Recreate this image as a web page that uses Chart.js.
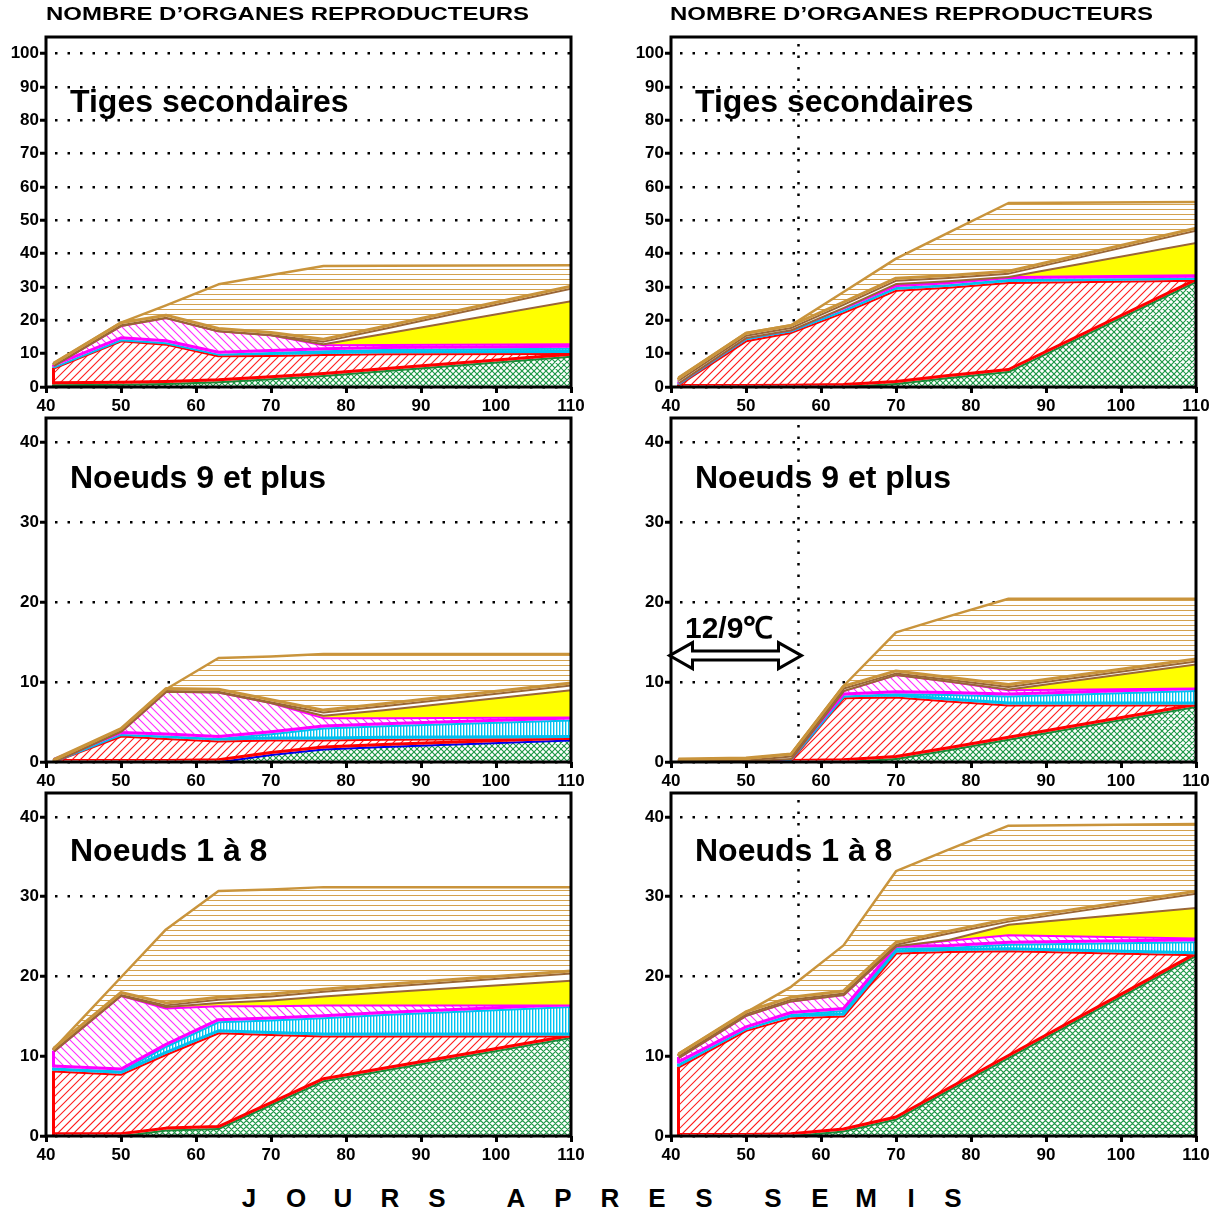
<!DOCTYPE html>
<html lang="fr">
<head>
<meta charset="utf-8">
<title>Nombre d’organes reproducteurs</title>
<script src="https://cdn.jsdelivr.net/npm/chart.js@4.4.1/dist/chart.umd.min.js"></script>
<style>
  html, body { margin: 0; padding: 0; background: #fff; }
  body { position: relative; width: 1220px; height: 1212px; overflow: hidden;
         font-family: "Liberation Sans", Arial, Helvetica, sans-serif; }
  canvas { position: absolute; z-index: 1; }
  .txt { position: absolute; z-index: 2; font-weight: bold; color: #000; white-space: nowrap; }
  .titre { font-size: 18px; line-height: 18px; transform-origin: 0 0; }
  .panneau { font-size: 32px; line-height: 32px; }
  .temp { font-size: 30px; line-height: 30px; }
  .lettre { font-size: 26px; line-height: 26px; top: 1185px; transform: translateX(-50%); }
</style>
</head>
<body>
<div class="txt titre" style="left:46px;top:5px">NOMBRE D’ORGANES REPRODUCTEURS</div>
<div class="txt titre" style="left:670px;top:5px">NOMBRE D’ORGANES REPRODUCTEURS</div>

<div class="txt panneau" style="left:70px;top:85px">Tiges secondaires</div>
<div class="txt panneau" style="left:695px;top:85px">Tiges secondaires</div>
<div class="txt panneau" style="left:70px;top:461px">Noeuds 9 et plus</div>
<div class="txt panneau" style="left:695px;top:461px">Noeuds 9 et plus</div>
<div class="txt panneau" style="left:70px;top:834px">Noeuds 1 à 8</div>
<div class="txt panneau" style="left:695px;top:834px">Noeuds 1 à 8</div>
<div class="txt temp" style="left:685px;top:613px">12/9℃</div>

<div id="axe"></div>

<script>
Chart.defaults.font.family = '"Liberation Sans", Arial, Helvetica, sans-serif';

// jours après semis des relevés
const jours = [41, 50, 56, 63, 70, 77, 85, 110];

// valeurs cumulées : sommet de chaque couche, de bas en haut
// Tiges secondaires (gauche)
const tigesG_vert    = [0.8, 1.0, 1.2, 1.7, 2.6, 3.6, 5.0, 9.4];
const tigesG_rouge   = [5.8, 14.0, 13.0, 9.5, 9.6, 9.9, 10.1, 10.2];
const tigesG_cyan    = [6.1, 14.3, 13.4, 10.0, 10.5, 11.0, 11.4, 11.8];
const tigesG_magenta = [6.6, 18.6, 21.0, 17.0, 15.8, 12.8, 12.9, 13.1];
const tigesG_jaune   = [6.6, 18.6, 21.0, 17.0, 15.8, 13.1, 16.2, 26.0];
const tigesG_blanc   = [6.7, 18.8, 21.1, 17.1, 15.9, 13.9, 17.7, 29.8];
const tigesG_beige   = [7.0, 19.3, 24.5, 30.8, 33.6, 36.3, 36.4, 36.5];

// Tiges secondaires (droite, 12/9°C)
const tigesD_vert    = [0, 0, 0.1, 0.3, 1.2, 3.0, 4.8, 31.8];
const tigesD_rouge   = [0.8, 14.0, 16.5, 22.5, 29.2, 30.1, 31.5, 32.2];
const tigesD_cyan    = [1.1, 14.7, 17.0, 23.2, 30.0, 30.8, 32.4, 32.8];
const tigesD_magenta = [1.4, 15.0, 17.3, 24.0, 31.2, 32.0, 33.3, 33.8];
const tigesD_jaune   = [1.4, 15.0, 17.3, 24.0, 31.2, 32.0, 33.3, 43.5];
const tigesD_blanc   = [2.2, 15.7, 18.0, 25.0, 32.2, 33.0, 34.3, 47.2];
const tigesD_beige   = [2.8, 16.2, 18.5, 28.5, 38.5, 46.3, 55.2, 55.5];

// Noeuds 9 et plus (gauche)
const n9G_vert    = [0, 0, 0, 0.1, 1.0, 1.7, 2.0, 2.8];
const n9G_rouge   = [0.1, 3.3, 3.0, 2.7, 2.8, 2.8, 2.9, 3.0];
const n9G_cyan    = [0.1, 3.5, 3.3, 3.0, 3.6, 4.3, 4.6, 5.3];
const n9G_magenta = [0.1, 3.9, 8.9, 8.8, 7.5, 5.6, 5.6, 5.7];
const n9G_jaune   = [0.1, 3.9, 8.9, 8.8, 7.5, 5.9, 6.6, 9.1];
const n9G_blanc   = [0.1, 4.0, 9.0, 8.9, 7.6, 6.3, 7.1, 9.7];
const n9G_beige   = [0.2, 4.1, 9.1, 13.0, 13.2, 13.5, 13.5, 13.5];

// Noeuds 9 et plus (droite)
const n9D_vert    = [0, 0, 0, 0.1, 0.5, 1.6, 2.9, 7.0];
const n9D_rouge   = [0.1, 0.1, 0.3, 8.1, 8.2, 7.7, 7.2, 7.2];
const n9D_cyan    = [0.1, 0.1, 0.4, 8.3, 8.6, 8.5, 8.3, 9.0];
const n9D_magenta = [0.1, 0.2, 0.5, 9.0, 11.0, 10.2, 9.1, 9.3];
const n9D_jaune   = [0.1, 0.2, 0.5, 9.0, 11.0, 10.2, 9.2, 12.3];
const n9D_blanc   = [0.2, 0.3, 0.8, 9.3, 11.2, 10.4, 9.5, 12.7];
const n9D_beige   = [0.3, 0.4, 1.0, 9.5, 16.2, 18.2, 20.4, 20.4];

// Noeuds 1 à 8 (gauche)
const n18G_vert    = [0.1, 0.1, 0.8, 1.0, 4.0, 7.0, 8.3, 12.4];
const n18G_rouge   = [8.2, 7.8, 10.3, 13.0, 12.8, 12.6, 12.6, 12.6];
const n18G_cyan    = [8.6, 8.2, 11.3, 14.4, 14.6, 14.9, 15.3, 16.3];
const n18G_magenta = [10.7, 17.7, 16.1, 16.4, 16.4, 16.5, 16.5, 16.5];
const n18G_jaune   = [10.7, 17.7, 16.3, 16.8, 17.1, 17.6, 18.1, 19.6];
const n18G_blanc   = [10.8, 17.8, 16.5, 17.2, 17.6, 18.2, 18.8, 20.5];
const n18G_beige   = [10.9, 19.9, 25.9, 30.7, 30.9, 31.2, 31.2, 31.2];

// Noeuds 1 à 8 (droite)
const n18D_vert    = [0, 0, 0.1, 0.7, 2.2, 5.8, 9.9, 22.7];
const n18D_rouge   = [8.7, 13.3, 14.9, 15.1, 23.0, 23.2, 23.3, 22.8];
const n18D_cyan    = [9.1, 13.5, 15.3, 15.8, 23.6, 23.7, 24.1, 24.4];
const n18D_magenta = [9.9, 15.2, 17.0, 17.8, 23.9, 24.6, 25.3, 24.9];
const n18D_jaune   = [9.9, 15.2, 17.0, 17.8, 23.9, 24.7, 26.6, 28.7];
const n18D_blanc   = [10.1, 15.4, 17.2, 18.0, 24.1, 25.5, 27.0, 30.5];
const n18D_beige   = [10.3, 15.5, 18.7, 23.9, 33.2, 35.9, 38.9, 39.1];

// début du traitement 12/9°C
const finTraitement = 57;

// ---- hachures, tracées dans la surface de chaque couche ----
function hachurer(ctx, a, type) {
  const H = a.bottom - a.top;
  ctx.beginPath();
  if (type === 'vert' || type === 'rouge') {        // diagonales montantes
    const pas = type === 'vert' ? 6 : 8;
    for (let s = a.left - H; s < a.right; s += pas) { ctx.moveTo(s, a.bottom); ctx.lineTo(s + H, a.top); }
  }
  if (type === 'vert' || type === 'magenta') {      // diagonales descendantes
    const pas = type === 'vert' ? 6 : 8;
    for (let s = a.left - H; s < a.right; s += pas) { ctx.moveTo(s, a.top); ctx.lineTo(s + H, a.bottom); }
  }
  if (type === 'cyan') {
    for (let s = Math.floor(a.left); s < a.right; s += 3) { ctx.moveTo(s + 0.7, a.top); ctx.lineTo(s + 0.7, a.bottom); }
  }
  if (type === 'beige') {
    for (let s = Math.floor(a.top); s < a.bottom; s += 5) { ctx.moveTo(a.left, s + 2.5); ctx.lineTo(a.right, s + 2.5); }
  }
  ctx.strokeStyle = { vert: '#22994a', rouge: '#ff2020', magenta: '#ff30ff', cyan: '#00c4f2', beige: '#d4a14e' }[type];
  ctx.lineWidth = type === 'cyan' ? 1.4 : 1.1;
  ctx.stroke();
}

function jeux(couches, contourVert) {
  const fonds = ['#fff', '#fff', '#fff', '#fff', '#ffff00', '#fff', '#fff'];
  const motifs = ['vert', 'rouge', 'cyan', 'magenta', null, null, 'beige'];
  const traits = [contourVert || '#1a8c3a', '#ff0000', '#00c0f0', '#ff00ff', '#9a6636', '#9a6636', '#c9943c'];
  const epaisseurs = [4, 4, 4, 4, 4, 4, 2.5];
  const rang = [0, 1, 3, 5, 7, 8, 9];
  const ds = couches.map((d, k) => ({
    data: d,
    fill: k === 0 ? 'origin' : '-1',
    backgroundColor: fonds[k],
    borderColor: traits[k],
    borderWidth: epaisseurs[k],
    order: 20 - rang[k],
    hachure: motifs[k],
    dessous: k - 1
  }));
  // contour inférieur de chaque couche, légèrement remonté
  [[1, '#ff0000', 2], [2, '#00c0f0', 4], [3, '#ff00ff', 6], [6, '#c9943c', 10]].forEach(([k, c, r]) => {
    ds.push({ data: couches[k - 1], fill: false, borderColor: c, backgroundColor: c, borderWidth: 3, order: 20 - r, decalage: -1.5 });
  });
  return ds;
}

const habillage = {
  id: 'habillage',
  beforeDatasetsDraw(chart, args, opts) {
    if (opts.repere == null) return;
    const { ctx, chartArea: a } = chart;
    const px = chart.scales.x.getPixelForValue(opts.repere);
    ctx.save();
    ctx.strokeStyle = '#000';
    ctx.lineWidth = 2.5;
    ctx.setLineDash([2.5, 9]);
    ctx.beginPath();
    ctx.moveTo(px, a.top + 7);
    ctx.lineTo(px, a.bottom);
    ctx.stroke();
    ctx.restore();
  },
  beforeDatasetDraw(chart, args) {
    const ds = chart.data.datasets[args.index];
    const ctx = chart.ctx;
    if (ds.hachure) {
      const haut = args.meta.data;
      const bas = ds.dessous >= 0 ? chart.getDatasetMeta(ds.dessous).data : null;
      const y0 = chart.scales.y.getPixelForValue(0);
      const basY = i => (bas ? bas[i].y : y0);
      ctx.save();
      ctx.beginPath();
      haut.forEach((p, i) => (i ? ctx.lineTo(p.x, p.y) : ctx.moveTo(p.x, p.y)));
      for (let i = haut.length - 1; i >= 0; i--) ctx.lineTo(haut[i].x, basY(i));
      ctx.closePath();
      ctx.save();
      ctx.clip();
      hachurer(ctx, chart.chartArea, ds.hachure);
      ctx.restore();
      // bord gauche de la couche
      ctx.beginPath();
      ctx.moveTo(haut[0].x, basY(0));
      ctx.lineTo(haut[0].x, haut[0].y);
      ctx.strokeStyle = ds.borderColor;
      ctx.lineWidth = 3;
      ctx.stroke();
      ctx.restore();
    }
    if (ds.decalage) { ctx.save(); ctx.translate(0, ds.decalage); }
  },
  afterDatasetDraw(chart, args) {
    if (chart.data.datasets[args.index].decalage) chart.ctx.restore();
  },
  afterDraw(chart, args, opts) {
    const { ctx, chartArea: a } = chart;
    ctx.save();
    ctx.strokeStyle = '#000';
    ctx.lineWidth = 3;
    ctx.strokeRect(a.left, a.top, a.right - a.left, a.bottom - a.top);
    const f = opts.fleche;
    if (f) {
      const x1 = chart.scales.x.getPixelForValue(f.de);
      const x2 = chart.scales.x.getPixelForValue(f.a);
      const yc = chart.scales.y.getPixelForValue(f.y);
      const hl = 23, hh = 13, sh = 4.5;
      ctx.beginPath();
      ctx.moveTo(x1, yc);
      ctx.lineTo(x1 + hl, yc - hh);
      ctx.lineTo(x1 + hl, yc - sh);
      ctx.lineTo(x2 - hl, yc - sh);
      ctx.lineTo(x2 - hl, yc - hh);
      ctx.lineTo(x2, yc);
      ctx.lineTo(x2 - hl, yc + hh);
      ctx.lineTo(x2 - hl, yc + sh);
      ctx.lineTo(x1 + hl, yc + sh);
      ctx.lineTo(x1 + hl, yc + hh);
      ctx.closePath();
      ctx.fillStyle = '#fff';
      ctx.fill();
      ctx.lineWidth = 3;
      ctx.stroke();
    }
    ctx.restore();
  }
};

const panneaux = [
  { x: 0,   y: 22,  w: 600, h: 392, haut: 15, droite: 29, axeX: 27, yMax: 105,
    couches: [tigesG_vert, tigesG_rouge, tigesG_cyan, tigesG_magenta, tigesG_jaune, tigesG_blanc, tigesG_beige] },
  { x: 625, y: 22,  w: 595, h: 392, haut: 15, droite: 24, axeX: 27, yMax: 105, repere: finTraitement,
    couches: [tigesD_vert, tigesD_rouge, tigesD_cyan, tigesD_magenta, tigesD_jaune, tigesD_blanc, tigesD_beige] },
  { x: 0,   y: 405, w: 600, h: 385, haut: 13, droite: 29, axeX: 28, yMax: 43, contourVert: '#0000ee',
    couches: [n9G_vert, n9G_rouge, n9G_cyan, n9G_magenta, n9G_jaune, n9G_blanc, n9G_beige] },
  { x: 625, y: 405, w: 595, h: 385, haut: 13, droite: 24, axeX: 28, yMax: 43, repere: finTraitement,
    fleche: { de: 39.8, a: 57.4, y: 13.3 },
    couches: [n9D_vert, n9D_rouge, n9D_cyan, n9D_magenta, n9D_jaune, n9D_blanc, n9D_beige] },
  { x: 0,   y: 780, w: 600, h: 385, haut: 13, droite: 29, axeX: 29, yMax: 43,
    couches: [n18G_vert, n18G_rouge, n18G_cyan, n18G_magenta, n18G_jaune, n18G_blanc, n18G_beige] },
  { x: 625, y: 780, w: 595, h: 385, haut: 13, droite: 24, axeX: 29, yMax: 43, repere: finTraitement,
    couches: [n18D_vert, n18D_rouge, n18D_cyan, n18D_magenta, n18D_jaune, n18D_blanc, n18D_beige] }
];

const policeAxe = { size: 17, weight: 'bold' };

panneaux.forEach(p => {
  const canvas = document.createElement('canvas');
  canvas.width = p.w;
  canvas.height = p.h;
  canvas.style.left = p.x + 'px';
  canvas.style.top = p.y + 'px';
  document.body.appendChild(canvas);

  new Chart(canvas, {
    type: 'line',
    data: { labels: jours, datasets: jeux(p.couches, p.contourVert) },
    options: {
      responsive: false,
      animation: false,
      events: [],
      layout: { padding: { top: p.haut, right: p.droite, left: 0, bottom: 0 } },
      elements: {
        point: { radius: 0 },
        line: { tension: 0, borderCapStyle: 'butt', borderJoinStyle: 'round' }
      },
      plugins: {
        legend: { display: false },
        tooltip: { enabled: false },
        colors: { enabled: false },
        habillage: { repere: p.repere, fleche: p.fleche }
      },
      scales: {
        x: {
          type: 'linear', min: 40, max: 110,
          afterFit: s => { s.height = p.axeX; },
          ticks: { stepSize: 10, padding: 3, color: '#000', font: policeAxe },
          grid: { drawOnChartArea: false, tickLength: 6, tickWidth: 3, tickColor: '#000' },
          border: { display: false }
        },
        y: {
          min: 0, max: p.yMax,
          afterFit: s => { s.width = 46; },
          ticks: { stepSize: 10, includeBounds: false, padding: 1, color: '#000', font: policeAxe },
          grid: { color: '#000', lineWidth: 2.5, tickLength: 6, tickWidth: 3, tickColor: '#000', tickBorderDash: [] },
          border: { display: false, dash: [2.5, 10], dashOffset: 3.5 }
        }
      }
    },
    plugins: [habillage]
  });
});

// titres étirés comme sur la figure
document.querySelectorAll('.titre').forEach(el => {
  el.style.transform = 'scaleX(' + (483 / el.offsetWidth) + ')';
});

// titre de l'axe des abscisses, lettres espacées
const axe = document.getElementById('axe');
const lettres = 'JOURSAPRESSEMIS';
const centres = [249, 296, 343, 390, 437, 516, 563, 610, 657, 704, 773, 820, 866, 911, 953];
lettres.split('').forEach((l, i) => {
  const s = document.createElement('div');
  s.className = 'txt lettre';
  s.style.left = centres[i] + 'px';
  s.textContent = l;
  axe.appendChild(s);
});
</script>
</body>
</html>
